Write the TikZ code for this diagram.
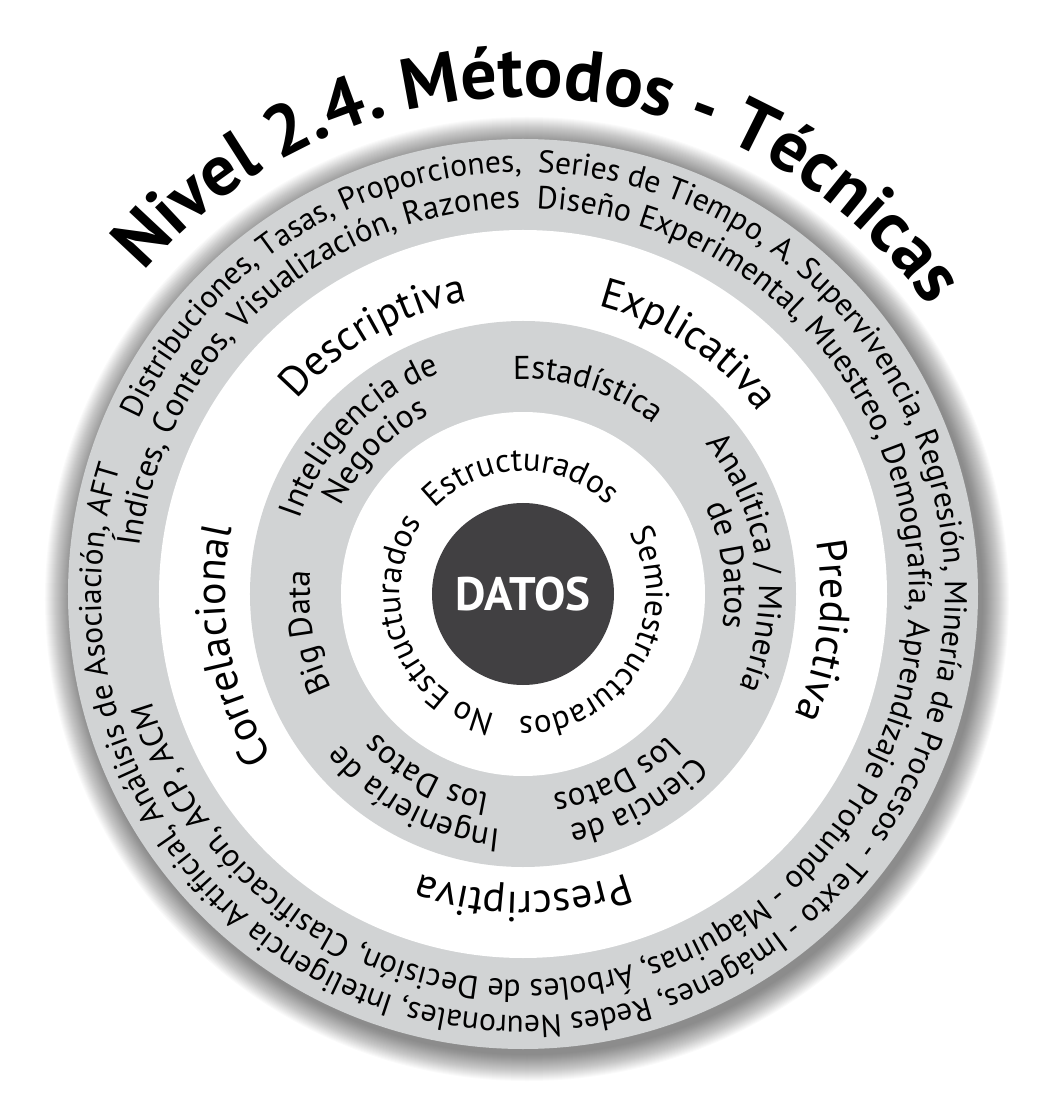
\documentclass[tikz,border=0pt]{standalone}
\usepackage{fontspec}
\setmainfont{PT Sans}
\usetikzlibrary{decorations.text}
\definecolor{ringgray}{RGB}{209,211,212}
\definecolor{coregray}{RGB}{65,64,66}
\newcommand\fTitle{\fontsize{72pt}{78pt}\selectfont\bfseries}
\newcommand\fOuterA{\fontsize{31.5pt}{37pt}\selectfont}
\newcommand\fOuterB{\fontsize{32.5pt}{38pt}\selectfont}
\newcommand\fOuterC{\fontsize{32pt}{38pt}\selectfont}
\newcommand\fMid{\fontsize{42pt}{48pt}\selectfont}
\newcommand\fIn{\fontsize{33pt}{39pt}\selectfont}
\newcommand\fDatos{\fontsize{47pt}{54pt}\selectfont\bfseries}
% centred text on a clockwise arc: radius, mid angle, half span, font, text
\newcommand\ArcC[5]{%
  \path[decorate,decoration={text along path,text={|#4|#5},text align=center}]
    (#2+#3:#1pt) arc[start angle=#2+#3, end angle=#2-#3, radius=#1pt];}
% left aligned: radius, start, end, font, text
\newcommand\ArcL[5]{%
  \path[decorate,decoration={text along path,text={|#4|#5},text align=left}]
    (#2:#1pt) arc[start angle=#2, end angle=#3, radius=#1pt];}
% right aligned: radius, start, end, font, text
\newcommand\ArcR[5]{%
  \path[decorate,decoration={text along path,text={|#4|#5},text align=right}]
    (#2:#1pt) arc[start angle=#2, end angle=#3, radius=#1pt];}
\tikzset{
  ringfill/.style={fill=ringgray},
  holefill/.style={fill=white},
  core/.style={circle, fill=coregray, minimum size=182pt, inner sep=0pt, text=white, font=\fDatos}
}
\begin{document}
\begin{tikzpicture}
\useasboundingbox (-523pt,-522pt) rectangle (524pt,594pt);
\fill[white] (-523pt,-522pt) rectangle (524pt,594pt);
% soft shadow
\foreach \i in {0,...,26} {
  \fill[black, opacity=0.018] (4pt,-5pt) circle[radius={482pt-\i*1pt}];
}
% rings
\fill[ringfill] (0,0) circle[radius=455pt];
\fill[holefill] (0,0) circle[radius=364pt];
\fill[ringfill] (0,0) circle[radius=273pt];
\fill[holefill] (0,0) circle[radius=182pt];
\node[core] (datos) at (0,0) {DATOS};
% title
\ArcC{497}{87.5}{80}{\fTitle}{Nivel 2.4. Métodos - Técnicas}
% outer ring
\ArcR{422}{178}{90.2}{\fOuterA}{Distribuciones, Tasas, Proporciones,}
\ArcL{422}{88}{-262}{\fOuterA}{Series de Tiempo, A. Supervivencia, Regresión, Minería de Procesos - Texto - Imágenes, Redes Neuronales, Inteligencia Artificial, Análisis de Asociación, AFT}
\ArcR{386}{188}{90.4}{\fOuterB}{Índices, Conteos, Visualización, Razones}
\ArcL{386}{88}{-262}{\fOuterC}{Diseño Experimental, Muestreo, Demografía, Aprendizaje Profundo - Máquinas, Árboles de Decisión, Clasificación, ACP, ACM}
% middle ring
\ArcC{298}{120}{80}{\fMid}{Descriptiva}
\ArcC{298}{56.5}{80}{\fMid}{Explicativa}
\ArcC{298}{-7}{80}{\fMid}{Predictiva}
\ArcC{298}{-90}{80}{\fMid}{Prescriptiva}
\ArcC{298}{190}{80}{\fMid}{Correlacional}
% inner gray ring
\ArcC{215}{72.5}{80}{\fIn}{Estadística}
\ArcC{236}{136}{80}{\fIn}{Inteligencia de}
\ArcC{202}{136}{80}{\fIn}{Negocios}
\ArcC{236}{8}{80}{\fIn}{Analítica / Minería}
\ArcC{202}{8}{80}{\fIn}{de Datos}
\ArcC{213}{190}{80}{\fIn}{Big Data}
\ArcC{236}{-61}{80}{\fIn}{Ciencia de}
\ArcC{202}{-63}{80}{\fIn}{los Datos}
\ArcC{236}{242}{80}{\fIn}{Ingeniería de}
\ArcC{202}{242}{80}{\fIn}{los Datos}
% centre ring
\ArcC{123}{91}{85}{\fIn}{Estructurados}
\ArcC{123}{-31}{85}{\fIn}{Semiestructurados}
\ArcC{123}{201}{85}{\fIn}{No Estructurados}
\end{tikzpicture}
\end{document}
